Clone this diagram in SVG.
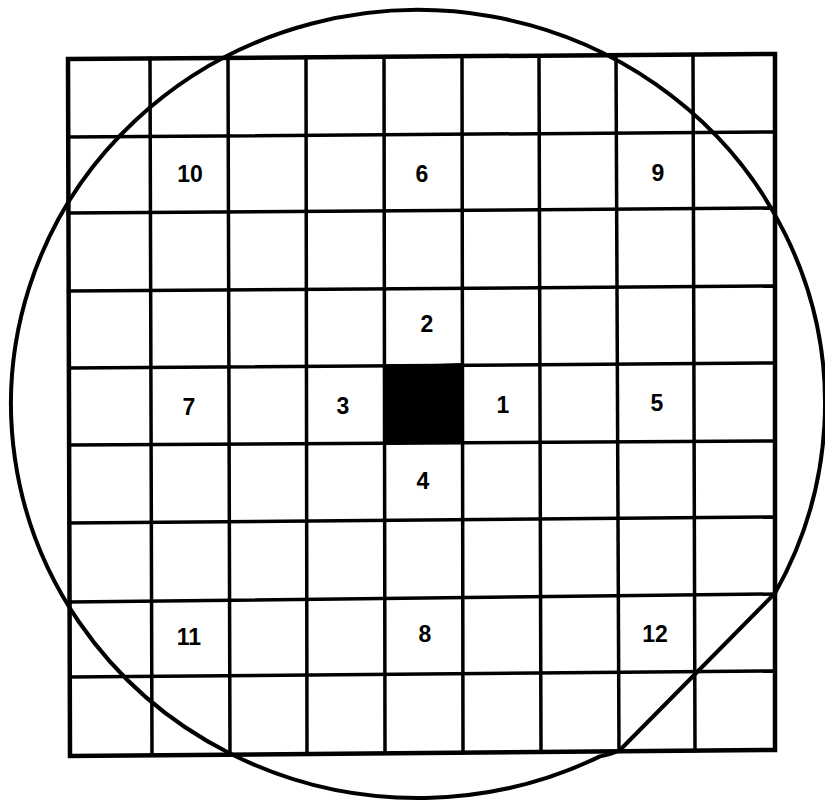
<svg xmlns="http://www.w3.org/2000/svg" width="825" height="802" viewBox="0 0 825 802">
  <style>
    .grid { stroke: #000; stroke-width: 3.5; fill: none; stroke-linecap: square; }
    .border { stroke: #000; stroke-width: 4.5; fill: none; stroke-linejoin: miter; }
    .wafer { stroke: #000; stroke-width: 4; fill: none; stroke-linejoin: round; }
    .lbl { font-family: "Liberation Sans", Arial, sans-serif; font-weight: bold; font-size: 23px; fill: #000; text-anchor: middle; }
  </style>
  <rect x="0" y="0" width="825" height="802" fill="#fff"/>

  <g id="connectors">
    <!-- vertical grid lines -->
    <line class="grid" x1="150" y1="58.4" x2="152" y2="755.3"/>
    <line class="grid" x1="228" y1="57.9" x2="230" y2="754.6"/>
    <line class="grid" x1="306" y1="57.3" x2="307" y2="754"/>
    <line class="grid" x1="384" y1="56.8" x2="385" y2="753.3"/>
    <line class="grid" x1="462" y1="56.2" x2="463" y2="752.7"/>
    <line class="grid" x1="539" y1="55.7" x2="541" y2="752"/>
    <line class="grid" x1="616" y1="55.1" x2="619" y2="751.3"/>
    <line class="grid" x1="693" y1="54.6" x2="695" y2="750.7"/>
    <!-- horizontal grid lines -->
    <line class="grid" x1="68.2" y1="137" x2="775" y2="132"/>
    <line class="grid" x1="68.4" y1="213" x2="775" y2="208"/>
    <line class="grid" x1="68.7" y1="291" x2="775" y2="286"/>
    <line class="grid" x1="68.9" y1="368" x2="775" y2="363"/>
    <line class="grid" x1="69.1" y1="445" x2="775" y2="441"/>
    <line class="grid" x1="69.3" y1="523" x2="775" y2="517"/>
    <line class="grid" x1="69.6" y1="602" x2="775" y2="594"/>
    <line class="grid" x1="69.8" y1="677" x2="775" y2="671"/>
    <!-- outer frame -->
    <polygon class="border" points="68,59 775,54 775,750 70,756"/>
  </g>

  <g id="wafer">
    <path class="wafer" d="M 775 593.2 L 620 750 Q 612 754 600 756.4 A 407 394 0 1 1 775 593.2 Z"/>
  </g>

  <g id="center-die">
    <polygon points="384,366 462,363 463,442 385,445" fill="#000"/>
  </g>

  <g id="die-1"><text class="lbl" x="503" y="413">1</text></g>
  <g id="die-2"><text class="lbl" x="427" y="332">2</text></g>
  <g id="die-3"><text class="lbl" x="343" y="414">3</text></g>
  <g id="die-4"><text class="lbl" x="423" y="489">4</text></g>
  <g id="die-5"><text class="lbl" x="657" y="411">5</text></g>
  <g id="die-6"><text class="lbl" x="422" y="182">6</text></g>
  <g id="die-7"><text class="lbl" x="189" y="415">7</text></g>
  <g id="die-8"><text class="lbl" x="425" y="642">8</text></g>
  <g id="die-9"><text class="lbl" x="658" y="181">9</text></g>
  <g id="die-10"><text class="lbl" x="190" y="182">10</text></g>
  <g id="die-11"><text class="lbl" x="189" y="645">11</text></g>
  <g id="die-12"><text class="lbl" x="655" y="642">12</text></g>
</svg>
